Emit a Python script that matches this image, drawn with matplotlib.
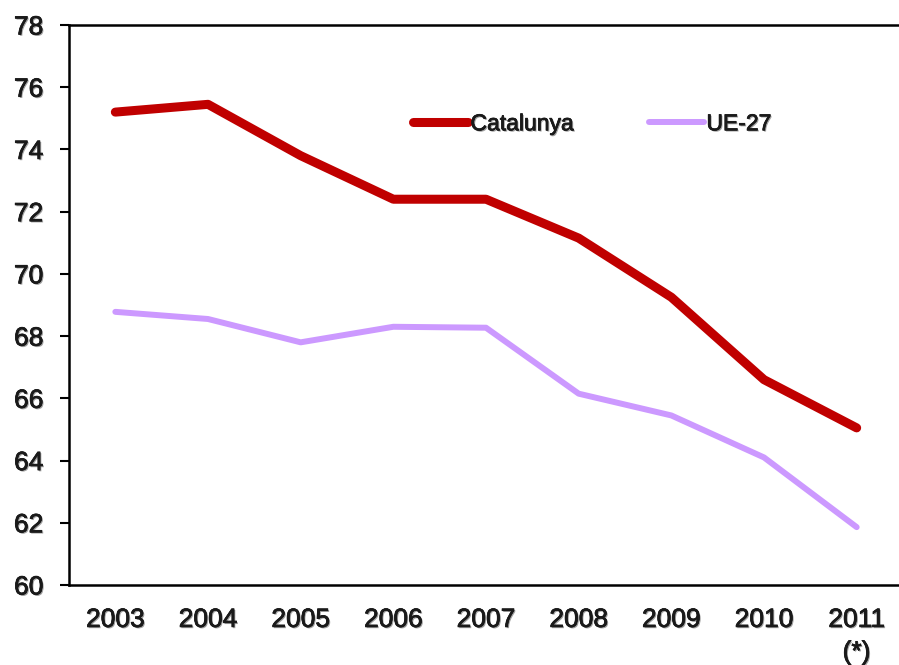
import matplotlib
matplotlib.use("Agg")
import matplotlib.pyplot as plt
import matplotlib.patheffects as pe

# Dades (llegides del gràfic)
anys = ["2003", "2004", "2005", "2006", "2007", "2008", "2009", "2010", "2011\n(*)"]
catalunya = [75.2, 75.45, 73.8, 72.4, 72.4, 71.15, 69.25, 66.6, 65.05]
ue27 = [68.78, 68.55, 67.8, 68.3, 68.27, 66.15, 65.45, 64.1, 61.86]
y_ticks = list(range(60, 79, 2))

plt.rcParams['font.family'] = ['Liberation Sans', 'DejaVu Sans']

# ombra i traç una mica més gruixut del text, com a l'original
ombra = [pe.withSimplePatchShadow(offset=(0.9, -0.9), shadow_rgbFace='#777777', alpha=0.7),
         pe.withStroke(linewidth=0.5, foreground='#1a1a1a')]

fig = plt.figure(figsize=(8.99, 6.65), dpi=100)
ax = fig.add_axes([69 / 899, 80 / 665, 834 / 899, 560 / 665])

x = range(len(anys))
ax.plot(x, catalunya, color='#C00000', lw=6.5, solid_capstyle='round',
        solid_joinstyle='round', label='Catalunya')
ax.plot(x, ue27, color='#CC99FF', lw=4.3, solid_capstyle='round',
        solid_joinstyle='round', label='UE-27')

ax.set_xlim(-0.5, len(anys) - 0.5)
ax.set_ylim(60, 78)
ax.set_yticks(y_ticks)
ax.set_xticks(list(x))
ax.set_xticklabels(anys, linespacing=1.45)

for s in ['left', 'bottom', 'top']:
    ax.spines[s].set_linewidth(1.8)
    ax.spines[s].set_color('black')
ax.spines['right'].set_visible(False)

ax.tick_params(axis='y', direction='out', length=6.5, width=1.5, pad=12,
               labelsize=19, labelcolor='#1a1a1a')
ax.tick_params(axis='x', length=0, pad=16.5, labelsize=19, labelcolor='#1a1a1a')
for lab in ax.get_xticklabels() + ax.get_yticklabels():
    lab.set_path_effects(ombra)

leg = ax.legend(loc='upper left', bbox_to_anchor=(0.388, 0.881), ncol=2,
                frameon=False, handlelength=2.4, handletextpad=0.1,
                columnspacing=3.3, prop={'size': 16.5})
for t in leg.get_texts():
    t.set_color('#1a1a1a')
    t.set_path_effects(ombra)

fig.savefig('out.png', dpi=100)
